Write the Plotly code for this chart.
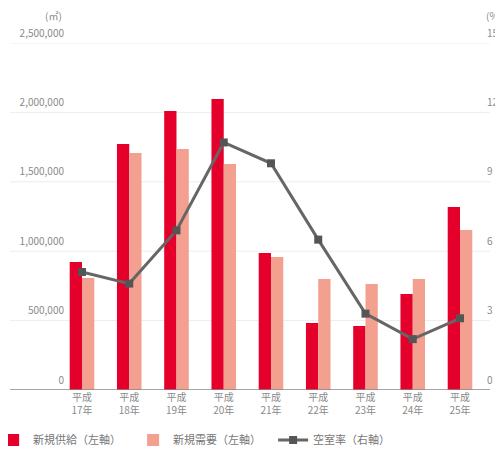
import plotly.graph_objects as go

categories = ["平成<br>17年", "平成<br>18年", "平成<br>19年", "平成<br>20年", "平成<br>21年",
              "平成<br>22年", "平成<br>23年", "平成<br>24年", "平成<br>25年"]
supply = [922000, 1772000, 2010000, 2096000, 987000, 483000, 461000, 692000, 1318000]
demand = [807000, 1707000, 1736000, 1628000, 958000, 800000, 764000, 800000, 1153000]
vacancy = [5.1, 4.6, 6.9, 10.7, 9.8, 6.5, 3.3, 2.2, 3.1]

left_ticks = [0, 500000, 1000000, 1500000, 2000000, 2500000]
left_labels = ["0", "500,000", "1,000,000", "1,500,000", "2,000,000", "2,500,000"]
right_ticks = [0, 3, 6, 9, 12, 15]
right_labels = ["0", "3", "6", "9", "12", "15"]

FONT = "Noto Sans CJK JP"
GRAY = "#8a8a8a"

fig = go.Figure()
fig.add_trace(go.Bar(x=categories, y=supply, name="新規供給（左軸）",
                     marker=dict(color="#e4002b", line=dict(width=0))))
fig.add_trace(go.Bar(x=categories, y=demand, name="新規需要（左軸）",
                     marker=dict(color="#f3a090", line=dict(width=0))))
fig.add_trace(go.Scatter(x=categories, y=vacancy, name="空室率（右軸）", yaxis="y2",
                         mode="lines+markers",
                         line=dict(color="#666666", width=3),
                         marker=dict(symbol="square", size=8, color="#555555")))

# page body has an 8px default margin; figure sized to fit the 503x455 window
W, H = 495, 447
ml, mr, mt, mb = 60, 19, 35, 65
pw = W - ml - mr
ext = -(ml - 2) / pw

shapes = []
for t in left_ticks[1:]:
    shapes.append(dict(type="line", xref="paper", yref="y", x0=ext, x1=1.0 + 6 / pw, y0=t, y1=t,
                       line=dict(color="#ededed", width=1), layer="below"))
shapes.append(dict(type="line", xref="paper", yref="y", x0=ext, x1=1.0 + 6 / pw, y0=0, y1=0,
                   line=dict(color="#888888", width=1.5), layer="above"))

fig.update_layout(
    width=W, height=H,
    margin=dict(l=ml, r=mr, t=mt, b=mb, autoexpand=False),
    paper_bgcolor="white", plot_bgcolor="white",
    font=dict(family=FONT, size=10, color=GRAY),
    barmode="group", bargap=0.48, bargroupgap=0,
    showlegend=True,
    legend=dict(orientation="h", x=-0.18, xanchor="left", y=-0.144, yanchor="middle",
                font=dict(size=11, color="#777777"), itemwidth=30,
                entrywidth=95, entrywidthmode="pixels",
                traceorder="normal"),
    xaxis=dict(range=[-0.296, 8.508], showgrid=False, showline=False, ticks="",
               tickfont=dict(size=10, color=GRAY), fixedrange=True),
    yaxis=dict(range=[0, 2500000], tickvals=left_ticks, ticktext=left_labels,
               showgrid=False, zeroline=False, showline=False, ticks="",
               ticklabelshift=-10, ticklabelstandoff=3,
               tickfont=dict(size=10, color=GRAY)),
    yaxis2=dict(range=[0, 15], tickvals=right_ticks, ticktext=right_labels,
                overlaying="y", side="right", showgrid=False, zeroline=False,
                showline=False, ticks="", ticklabelshift=-10, ticklabelstandoff=2,
                tickfont=dict(size=10, color=GRAY)),
    shapes=shapes,
    annotations=[
        dict(text="(㎡)", xref="paper", yref="paper", x=-0.01, y=1.0, yshift=28,
             xanchor="right", yanchor="middle", showarrow=False,
             font=dict(size=10, color=GRAY)),
        dict(text="(%)", xref="paper", yref="paper", x=1.0, y=1.0, yshift=28,
             xanchor="left", yanchor="middle", showarrow=False,
             font=dict(size=10, color=GRAY)),
    ],
)

fig.write_html("out.html")
